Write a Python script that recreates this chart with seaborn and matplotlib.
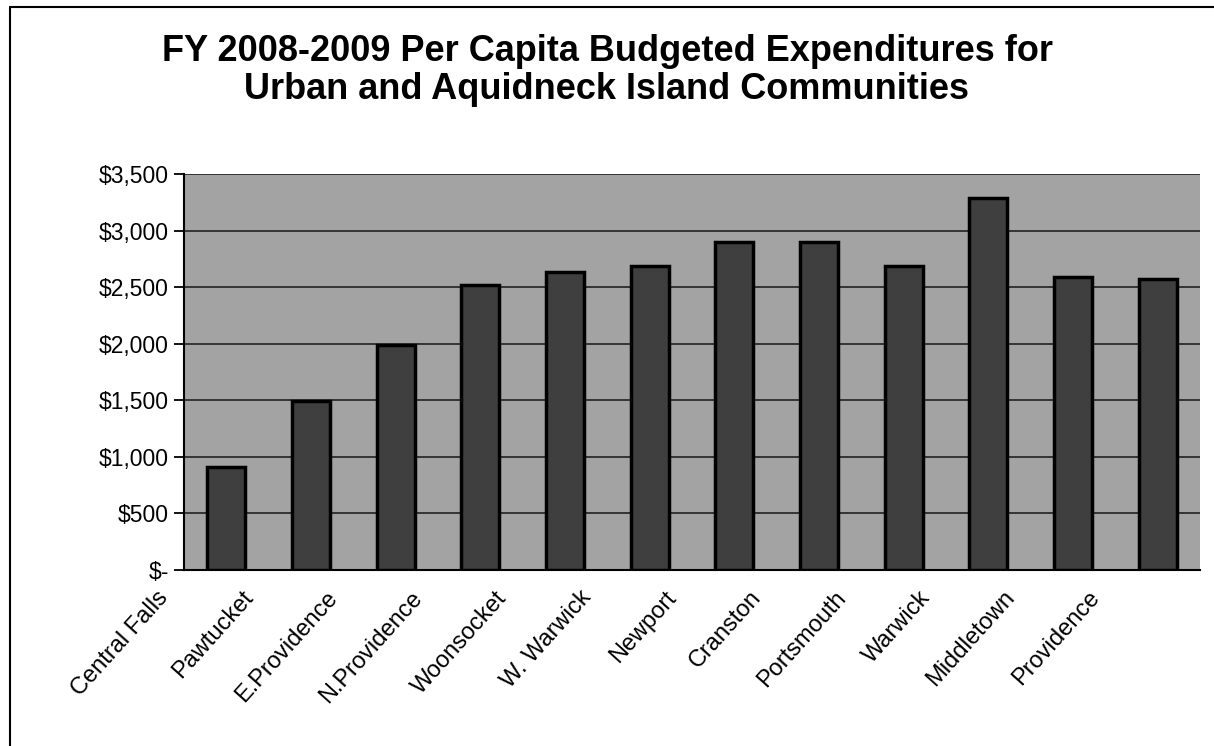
import matplotlib
matplotlib.use('Agg')

import seaborn as sns
import matplotlib.pyplot as plt
import matplotlib.transforms as mtransforms
import pandas as pd
from matplotlib.ticker import FuncFormatter, MultipleLocator

# --- data ---
communities = ['Central Falls', 'Pawtucket', 'E.Providence', 'N.Providence',
               'Woonsocket', 'W. Warwick', 'Newport', 'Cranston',
               'Portsmouth', 'Warwick', 'Middletown', 'Providence']
per_capita = [910, 1490, 1990, 2520, 2630, 2690, 2900, 2900,
              2690, 3290, 2590, 2570]

df = pd.DataFrame({'community': communities, 'spend': per_capita})

sns.set_style('white')
plt.rcParams['font.family'] = ['Liberation Sans', 'DejaVu Sans']
plt.rcParams['text.color'] = 'black'
plt.rcParams['xtick.color'] = 'black'
plt.rcParams['ytick.color'] = 'black'

fig = plt.figure(figsize=(12.14, 7.46), dpi=100)
ax = fig.add_axes([0.1516, 0.2359, 0.8369, 0.5309])

ax.set_facecolor('#a3a3a3')
sns.barplot(data=df, x='community', y='spend', color='#3f3f3f',
            width=0.45, edgecolor='black', linewidth=2.5,
            saturation=1, ax=ax, zorder=3)

ax.set_ylim(0, 3500)
ax.set_xlim(-0.5, len(communities) - 0.5)
ax.yaxis.set_major_locator(MultipleLocator(500))
ax.yaxis.set_major_formatter(FuncFormatter(lambda v, p: '$-' if v == 0 else f'${v:,.0f}'))
ax.grid(axis='y', color='#222222', linewidth=1.2, zorder=1)
ax.set_axisbelow(True)
ax.set_xlabel('')
ax.set_ylabel('')

for side in ['top', 'right']:
    ax.spines[side].set_visible(False)
for side in ['left', 'bottom']:
    ax.spines[side].set_color('black')
    ax.spines[side].set_linewidth(1.5)

# ticks at category boundaries on x
ax.set_xticks([i + 0.5 for i in range(len(communities) - 1)] + [-0.5], minor=True)
ax.tick_params(axis='x', which='minor', direction='out', length=8, width=1.3, color='black')
ax.tick_params(axis='x', which='major', length=0)
ax.tick_params(axis='y', direction='out', length=7, width=1.3, color='black',
               labelsize=16.5, labelcolor='black', pad=4, left=True)

ax.set_xticks(range(len(communities)))
ax.set_xticklabels(communities, rotation=48, ha='right', rotation_mode='anchor',
                   fontsize=17, color='black')
offset = mtransforms.ScaledTranslation(-0.70, -0.12, fig.dpi_scale_trans)
for lbl in ax.get_xticklabels():
    lbl.set_transform(lbl.get_transform() + offset)

fig.text(0.5, 0.955, 'FY 2008-2009 Per Capita Budgeted Expenditures for\n'
         'Urban and Aquidneck Island Communities',
         ha='center', va='top', fontsize=26, fontweight='bold',
         linespacing=1.12, color='black')

# chart frame lines
fig.add_artist(plt.Line2D([0.0085, 0.0085], [0, 0.99], color='black', linewidth=1.5,
                          transform=fig.transFigure))
fig.add_artist(plt.Line2D([0.0085, 1.0], [0.99, 0.99], color='black', linewidth=1.5,
                          transform=fig.transFigure))

plt.savefig('out.png', dpi=100)
plt.close()
